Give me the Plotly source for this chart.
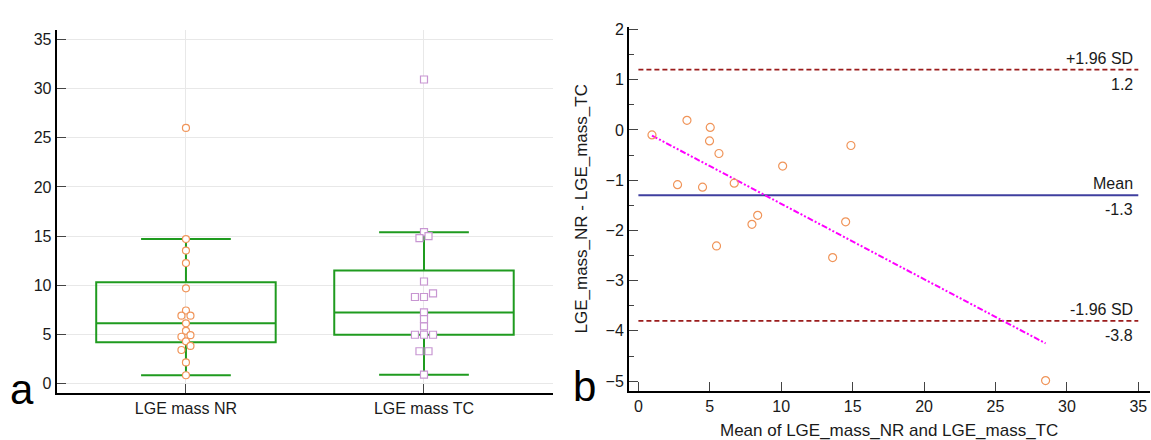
import numpy as np
import plotly.graph_objects as go

# ---------------- data ----------------
categories = ["LGE mass NR", "LGE mass TC"]

nr_values = [26.0, 14.70, 13.52, 12.25, 9.68, 7.43, 6.90, 6.90, 6.12, 5.36,
             4.92, 4.76, 4.29, 3.82, 3.41, 2.15, 0.84]
tc_values = [30.93, 15.40, 15.00, 14.80, 10.38, 9.18, 8.80, 8.80, 7.23, 6.56,
             5.82, 4.96, 4.96, 4.96, 3.28, 3.28, 0.90]

box_q1 = [4.19, 4.96]
box_median = [6.12, 7.23]
box_q3 = [10.31, 11.49]
box_lower = [0.84, 0.90]
box_upper = [14.70, 15.40]

ba_mean = [0.95, 3.40, 5.03, 4.98, 5.64, 2.74, 4.49, 6.71, 10.10, 14.88,
           8.35, 7.95, 14.51, 5.47, 13.60, 28.51]
ba_diff = [-0.10, 0.19, 0.05, -0.22, -0.47, -1.09, -1.14, -1.06, -0.72, -0.31,
           -1.70, -1.88, -1.83, -2.31, -2.54, -4.99]

mean_diff = -1.3
upper_loa = 1.2
lower_loa = -3.8
loa_labels = ["+1.96 SD", "Mean", "-1.96 SD"]

# ---------------- styles ----------------
FONT = "Arial, 'Liberation Sans', Helvetica, sans-serif"
GREEN = "#1f9b1f"
ORANGE = "#f0955a"
PURPLE = "#c896d2"
DARKRED = "#9b1c1c"
MEANBLUE = "#3f3f9f"
MAGENTA = "#ff00ff"
TXT = "#1a1a1a"


def swarm_offsets(values, thr=0.45, step=0.038):
    vals = np.asarray(values, dtype=float)
    order = np.argsort(vals, kind="stable")
    offsets = np.zeros(len(vals))
    groups, current, start = [], [], None
    for idx in order:
        v = vals[idx]
        if current and v - start < thr:
            current.append(idx)
        else:
            if current:
                groups.append(current)
            current, start = [idx], v
    if current:
        groups.append(current)
    for g in groups:
        k = len(g)
        for i, idx in enumerate(g):
            offsets[idx] = (i - (k - 1) / 2) * step
    return offsets


fig = go.Figure()

# ---------------- left panel: boxes ----------------
for i in range(2):
    fig.add_trace(go.Box(
        x=[i], q1=[box_q1[i]], median=[box_median[i]], q3=[box_q3[i]],
        lowerfence=[box_lower[i]], upperfence=[box_upper[i]],
        width=0.754, whiskerwidth=0.5, boxpoints=False,
        line=dict(color=GREEN, width=2), fillcolor="rgba(0,0,0,0)",
        xaxis="x", yaxis="y", showlegend=False, hoverinfo="skip"))

nr_x = 0 + swarm_offsets(nr_values)
tc_x = 1 + swarm_offsets(tc_values)
fig.add_trace(go.Scatter(
    x=nr_x, y=nr_values, mode="markers", xaxis="x", yaxis="y",
    marker=dict(symbol="circle", size=7, color="white",
                line=dict(color=ORANGE, width=1.2)),
    showlegend=False))
fig.add_trace(go.Scatter(
    x=tc_x, y=tc_values, mode="markers", xaxis="x", yaxis="y",
    marker=dict(symbol="square", size=7, color="white",
                line=dict(color=PURPLE, width=1.2)),
    showlegend=False))

# ---------------- right panel: Bland-Altman ----------------
x_line = [0, 35]
fig.add_trace(go.Scatter(x=x_line, y=[upper_loa] * 2, mode="lines",
                         xaxis="x2", yaxis="y2", showlegend=False,
                         line=dict(color=DARKRED, width=1.6, dash="5px,3px")))
fig.add_trace(go.Scatter(x=x_line, y=[lower_loa] * 2, mode="lines",
                         xaxis="x2", yaxis="y2", showlegend=False,
                         line=dict(color=DARKRED, width=1.6, dash="5px,3px")))
fig.add_trace(go.Scatter(x=x_line, y=[mean_diff] * 2, mode="lines",
                         xaxis="x2", yaxis="y2", showlegend=False,
                         line=dict(color=MEANBLUE, width=2)))

slope, intercept = np.polyfit(ba_mean, ba_diff, 1)
xr = np.array([min(ba_mean), max(ba_mean)])
fig.add_trace(go.Scatter(x=xr, y=slope * xr + intercept, mode="lines",
                         xaxis="x2", yaxis="y2", showlegend=False,
                         line=dict(color=MAGENTA, width=2,
                                   dash="6px,2px,2px,2px,2px,2px")))

fig.add_trace(go.Scatter(
    x=ba_mean, y=ba_diff, mode="markers", xaxis="x2", yaxis="y2",
    marker=dict(symbol="circle", size=8, color="rgba(0,0,0,0)",
                line=dict(color=ORANGE, width=1.2)),
    showlegend=False))

# ---------------- annotations ----------------
ann = []
for name, val in zip(loa_labels, [upper_loa, mean_diff, lower_loa]):
    ann.append(dict(x=35, y=val, xref="x2", yref="y2", text=name,
                    xanchor="right", yanchor="bottom", yshift=1, xshift=-3,
                    showarrow=False, font=dict(family=FONT, size=16, color=TXT)))
    ann.append(dict(x=35, y=val, xref="x2", yref="y2", text=f"{val:.1f}",
                    xanchor="right", yanchor="top", yshift=-4, xshift=-3,
                    showarrow=False, font=dict(family=FONT, size=16, color=TXT)))

ann.append(dict(x=581.5 / 1151, y=(440 - 205.8) / 440, xref="paper", yref="paper",
                text="LGE_mass_NR - LGE_mass_TC", textangle=-90, showarrow=False,
                xanchor="center", yanchor="middle",
                font=dict(family=FONT, size=17, color=TXT)))
ann.append(dict(x=889 / 1151, y=(440 - 430) / 440, xref="paper", yref="paper",
                text="Mean of LGE_mass_NR and LGE_mass_TC", showarrow=False,
                xanchor="center", yanchor="middle",
                font=dict(family=FONT, size=17, color=TXT)))
ann.append(dict(x=22 / 1151, y=(440 - 389) / 440, xref="paper", yref="paper",
                text="a", showarrow=False, xanchor="center", yanchor="middle",
                font=dict(family=FONT, size=42, color="black")))
ann.append(dict(x=584 / 1151, y=(440 - 386) / 440, xref="paper", yref="paper",
                text="b", showarrow=False, xanchor="center", yanchor="middle",
                font=dict(family=FONT, size=42, color="black")))

axis_common = dict(showline=True, linecolor="black", linewidth=2,
                   ticks="inside", tickcolor="#444", tickwidth=1, ticklen=9,
                   tickfont=dict(family=FONT, size=16, color=TXT),
                   zeroline=False)

fig.update_layout(
    width=1151, height=440,
    margin=dict(l=0, r=0, t=0, b=0),
    paper_bgcolor="white", plot_bgcolor="white",
    showlegend=False,
    xaxis=dict(domain=[56.7 / 1151, 553 / 1151], range=[-0.543, 1.542],
               tickmode="array", tickvals=[0, 1], ticktext=categories,
               showgrid=True, gridcolor="#e8e8e8", gridwidth=1,
               anchor="y", **axis_common),
    yaxis=dict(domain=[(440 - 392) / 440, (440 - 24.7) / 440],
               range=[-0.93, 35.93], tickmode="linear", tick0=0, dtick=5,
               showgrid=True, gridcolor="#e8e8e8", gridwidth=1,
               anchor="x", **axis_common),
    xaxis2=dict(domain=[629 / 1151, 1150 / 1151], range=[-0.658, 35.82],
                tickmode="linear", tick0=0, dtick=5, showgrid=False,
                anchor="y2", **axis_common),
    yaxis2=dict(domain=[(440 - 390.5) / 440, (440 - 21.2) / 440],
                range=[-5.2, 2.05], tickmode="linear", tick0=0, dtick=1,
                showgrid=False, anchor="x2",
                minor=dict(dtick=0.5, ticks="inside", ticklen=5,
                           tickcolor="#444", showgrid=False),
                **axis_common),
    annotations=ann,
)

fig.write_html("out.html",
               config={"displayModeBar": False},
               post_script="document.body.style.margin='0';"
                           "document.body.style.overflow='hidden';")
